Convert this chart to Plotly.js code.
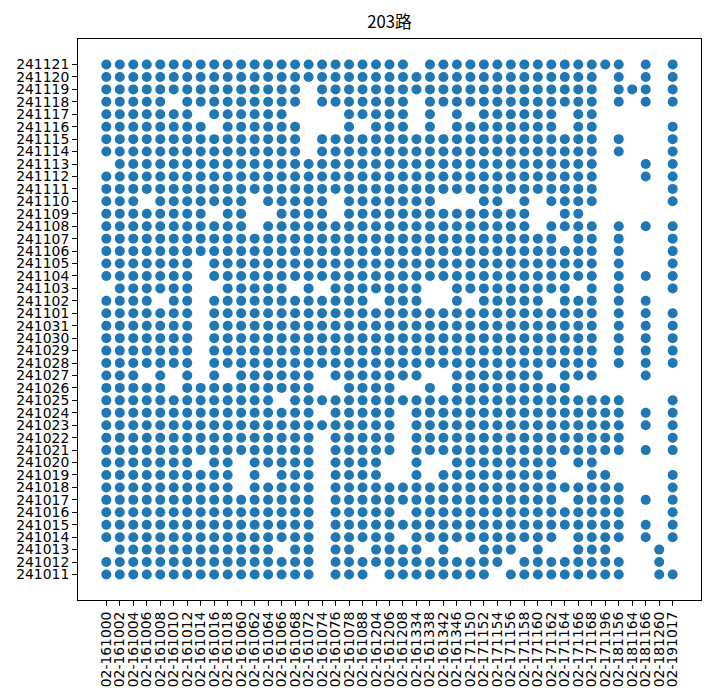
<!DOCTYPE html>
<html>
<head>
<meta charset="utf-8">
<script src="https://cdn.plot.ly/plotly-3.0.1.min.js"></script>
<style>html,body{margin:0;padding:0;background:#fff;}#chart{width:716px;height:700px;}</style>
</head>
<body>
<div id="chart"></div>
<script>
// x categories (vehicle / route codes)
const routes = ["02-161000","02-161002","02-161004","02-161006","02-161008","02-161010","02-161012","02-161014","02-161016","02-161018",
  "02-161060","02-161062","02-161064","02-161066","02-161068","02-161072","02-161074","02-161076","02-161078","02-161088",
  "02-161204","02-161206","02-161208","02-161334","02-161338","02-161342","02-161346","02-171150","02-171152","02-171154",
  "02-171156","02-171158","02-171160","02-171162","02-171164","02-171166","02-171168","02-171196","02-181156","02-181164",
  "02-181166","02-181260","02-191017"];

// y categories (dates), bottom to top
const dates = ["241011","241012","241013","241014","241015","241016","241017","241018","241019","241020",
  "241021","241022","241023","241024","241025","241026","241027","241028","241029","241030","241031",
  "241101","241102","241103","241104","241105","241106","241107","241108","241109","241110",
  "241111","241112","241113","241114","241115","241116","241117","241118","241119","241120","241121"];

// which routes (1-based positions in `routes`) have a record on each date, same order as `dates`
const present = [
  "1-16,18-20,22-29,31-39,42-43",
  "1-16,18-30,32-39,42",
  "2-13,15-16,18-19,21-24,26,29-31,33,36-38,42",
  "1-16,18-22,24-34,36-39,41,43",
  "1-16,18-39,41,43",
  "1-16,18-22,24-39,43",
  "1-16,18-34,36-39,41,43",
  "1-10,12-16,18-39,43",
  "1-10,12,14-16,18-21,24,26-34,37-38,43",
  "1-7,9-10,12-16,18-21,24,27-34,36-37",
  "1-16,18-22,24-39,41,43",
  "1-16,18-22,24-39,43",
  "1-22,24-39,41,43",
  "1-16,18-22,24-39,41,43",
  "1-13,15-39,43",
  "1-5,7-16,19-22,25,27-35",
  "1-3,5,7,9,11-16,18-24,27-33,35-37,41",
  "1-7,9-37,39,41,43",
  "1-7,9-37,39,41,43",
  "1-7,9-37,39,41,43",
  "1-7,9-37,39,41,43",
  "1-7,9-37,39,41,43",
  "1-4,6-7,9-20,22-24,27,29-33,35-37,39,41",
  "2-7,10-14,16,18-24,27-35,37,39,43",
  "1-7,9-37,39,41,43",
  "1-7,9-37,39,43",
  "1-37,39,43",
  "1-34,36-37,39,43",
  "1-11,13-32,34-37,39,41,43",
  "1-8,10-11,14-17,19-32,35-36",
  "1-3,5-11,13-17,19-25,29-30,32,34-37,43",
  "1-37,43",
  "1-37,41,43",
  "2-37,41,43",
  "1-15,17-37,39,43",
  "1-15,17-37,39,43",
  "1-8,10-15,19,21-23,25,27-34,36-37,43",
  "1-7,9-14,19-23,25,27,29-34,36-37",
  "1-5,7-15,17-23,25-37,39,41,43",
  "1-15,17-37,39-41,43",
  "1-37,39,41,43",
  "1-23,25-39,41,43"
];

function parseRanges(s) {
  const out = [];
  s.split(",").forEach(part => {
    const [a, b] = part.split("-").map(Number);
    const end = (b === undefined || isNaN(b)) ? a : b;
    for (let i = a; i <= end; i++) out.push(i);
  });
  return out;
}

const xs = [], ys = [];
dates.forEach((d, r) => {
  parseRanges(present[r]).forEach(idx => {
    xs.push(routes[idx - 1]);
    ys.push(d);
  });
});

const tickFont = {family: "DejaVu Sans, sans-serif", size: 13.9, color: "#000"};

const trace = {
  type: "scatter",
  mode: "markers",
  x: xs,
  y: ys,
  marker: {color: "#1f77b4", size: 10, line: {width: 0}},
  hoverinfo: "x+y",
  showlegend: false
};

const layout = {
  width: 716,
  height: 700,
  margin: {l: 78, r: 15, t: 39, b: 100, pad: 0},
  paper_bgcolor: "#ffffff",
  plot_bgcolor: "#ffffff",
  title: {
    text: "203路",
    font: {family: "Noto Sans CJK SC, DejaVu Sans, sans-serif", size: 16.7, color: "#000"},
    x: 0.5, xref: "paper", xanchor: "center",
    y: 1 - 22 / 700, yref: "container", yanchor: "middle"
  },
  xaxis: {
    type: "category",
    categoryorder: "array",
    categoryarray: routes,
    range: [-2.1, routes.length - 1 + 2.1],
    tickmode: "array",
    tickvals: routes,
    ticktext: routes,
    tickangle: -90,
    tickfont: tickFont,
    ticks: "outside",
    ticklen: 5,
    tickwidth: 1,
    tickcolor: "#000",
    showline: true,
    linecolor: "#000",
    linewidth: 1,
    mirror: true,
    showgrid: false,
    zeroline: false,
    automargin: false
  },
  yaxis: {
    type: "category",
    categoryorder: "array",
    categoryarray: dates,
    range: [-2.05, dates.length - 1 + 2.05],
    tickmode: "array",
    tickvals: dates,
    ticktext: dates,
    tickfont: tickFont,
    ticks: "outside",
    ticklen: 5,
    tickwidth: 1,
    tickcolor: "#000",
    showline: true,
    linecolor: "#000",
    linewidth: 1,
    mirror: true,
    showgrid: false,
    zeroline: false,
    automargin: false
  }
};

Plotly.newPlot("chart", [trace], layout, {displayModeBar: false, staticPlot: true});
</script>
</body>
</html>
